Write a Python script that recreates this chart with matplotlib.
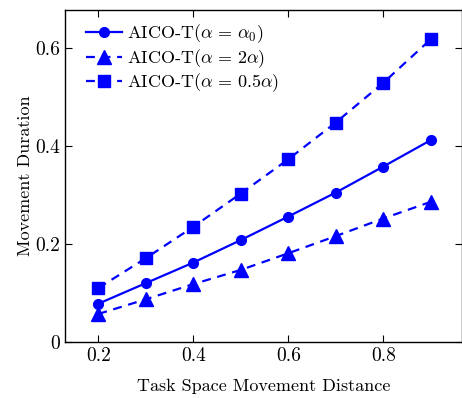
import numpy as np
import matplotlib
matplotlib.use("Agg")
import matplotlib.pyplot as plt

plt.rcParams['font.family'] = 'cmr10'
plt.rcParams['mathtext.fontset'] = 'cm'
plt.rcParams['axes.formatter.use_mathtext'] = True

# Movement distance and resulting durations for each alpha setting
distance = [0.2, 0.3, 0.4, 0.5, 0.6, 0.7, 0.8, 0.9]
dur_alpha0 = [0.078, 0.120, 0.162, 0.208, 0.256, 0.305, 0.358, 0.412]
dur_2alpha = [0.057, 0.087, 0.118, 0.147, 0.181, 0.216, 0.252, 0.286]
dur_half_alpha = [0.110, 0.171, 0.235, 0.303, 0.373, 0.448, 0.529, 0.618]

fig = plt.figure(figsize=[4.62, 3.98], dpi=100)
ax = fig.add_axes([0.141, 0.141, 0.858, 0.834])

blue = '#0000ff'
ax.plot(distance, dur_alpha0, '-', color=blue, lw=1.6, marker='o', ms=7,
        label=r'AICO-T($\alpha\,=\,\alpha_0$)')
ax.plot(distance, dur_2alpha, '--', color=blue, lw=1.6, marker='^', ms=10,
        dashes=(4, 3), label=r'AICO-T($\alpha\,=\,2\alpha$)')
ax.plot(distance, dur_half_alpha, '--', color=blue, lw=1.6, marker='s', ms=8,
        dashes=(4, 3), label=r'AICO-T($\alpha\,=\,0.5\alpha$)')

ax.set_xlim(0.13, 0.965)
ax.set_ylim(0, 0.678)
ax.set_xticks([0.2, 0.4, 0.6, 0.8])
ax.set_yticks([0, 0.2, 0.4, 0.6])
ax.set_xticklabels(['0.2', '0.4', '0.6', '0.8'])
ax.set_yticklabels(['0', '0.2', '0.4', '0.6'])
ax.tick_params(direction='in', top=True, right=True, labelsize=14, length=5)
for s in ax.spines.values():
    s.set_linewidth(1.0)

ax.set_xlabel('Task Space Movement Distance', fontsize=13, labelpad=10)
ax.set_ylabel('Movement Duration', fontsize=13, labelpad=2)
ax.legend(loc='upper left', bbox_to_anchor=(0.02, 1.0), frameon=False,
          fontsize=13, handlelength=2.0, borderaxespad=0.3,
          labelspacing=0.1, handletextpad=0.3)

plt.savefig('out.png', dpi=100)
